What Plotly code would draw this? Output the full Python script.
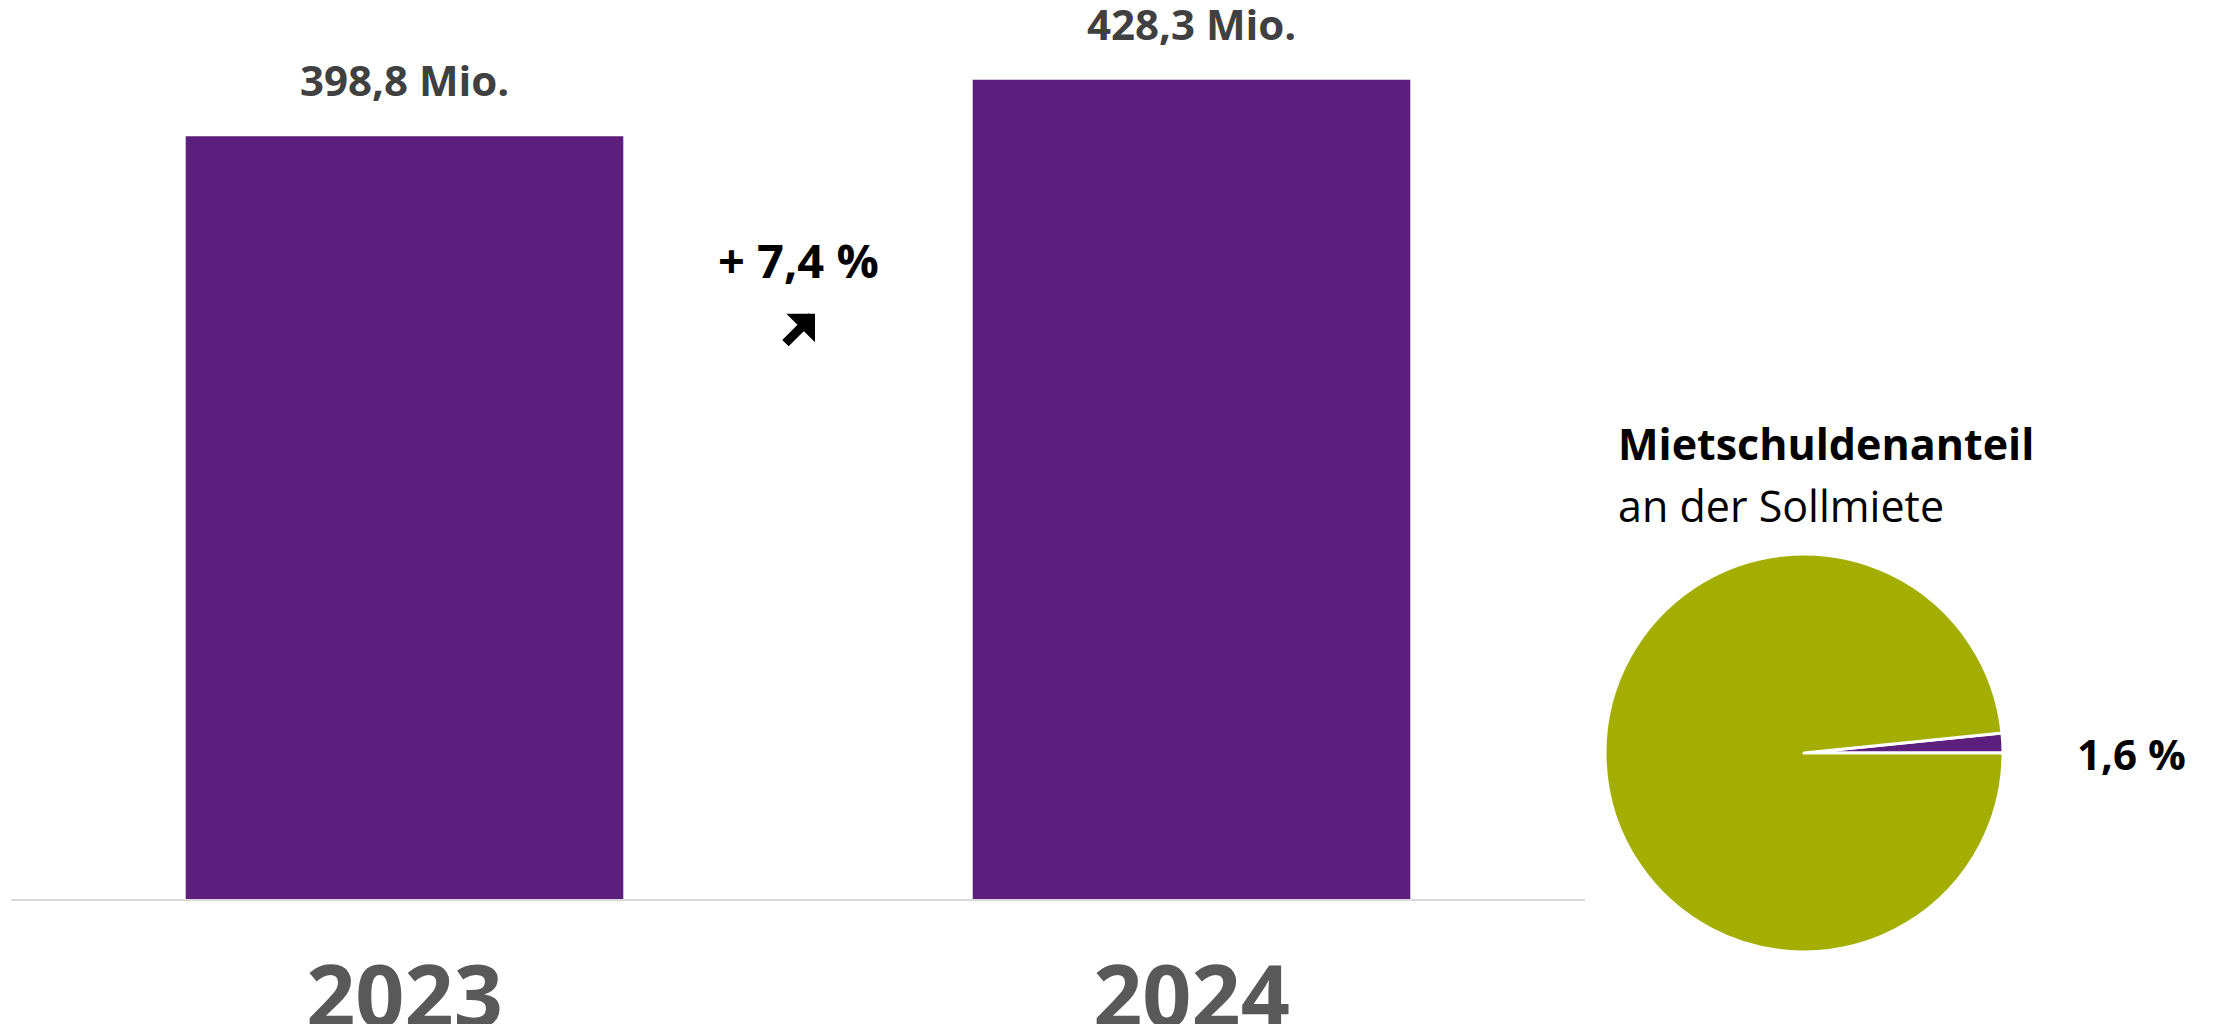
import plotly.graph_objects as go

years = ["2023", "2024"]
volumes = [398.8, 428.3]          # Mio.
volume_labels = ["398,8 Mio.", "428,3 Mio."]
change_label = "+ 7,4 %"
pie_labels = ["Mietschulden", "Übrige Sollmiete"]
pie_values = [1.6, 98.4]
pie_value_label = "1,6 %"
pie_title_bold = "Mietschuldenanteil"
pie_title_sub = "an der Sollmiete"

PURPLE = "#5C1F7E"
GREEN = "#A3AE00"
FONT = "Open Sans"

fig = go.Figure()

fig.add_trace(go.Bar(
    x=years, y=volumes, marker=dict(color=PURPLE, line=dict(width=0)),
    width=0.556, xaxis="x", yaxis="y", showlegend=False, hoverinfo="skip",
))

# Value labels above bars (category index positions)
for i, (v, lab) in enumerate(zip(volumes, volume_labels)):
    fig.add_annotation(x=i, y=v, xref="x", yref="y", text=lab, showarrow=False,
                       yanchor="bottom", yshift=26,
                       font=dict(family=FONT, size=42, color="#404040", weight="bold"))

# Change annotation between bars
fig.add_annotation(x=0.5, y=334, xref="x", yref="y", text=change_label, showarrow=False,
                   font=dict(family=FONT, size=47, color="#000000", weight="bold"))
# Up-right arrow
fig.add_annotation(x=0.5, y=306, xref="x", yref="y", xshift=17, text="",
                   showarrow=True, arrowhead=1, arrowsize=0.75, arrowwidth=9,
                   arrowcolor="#000000", ax=-31, ay=31, axref="pixel", ayref="pixel")

# Pie
fig.add_trace(go.Pie(
    labels=pie_labels, values=pie_values, sort=False, direction="counterclockwise",
    rotation=90 - 360 * pie_values[0] / sum(pie_values),
    marker=dict(colors=[PURPLE, GREEN], line=dict(color="white", width=3)),
    textinfo="none", hoverinfo="skip", showlegend=False,
    domain=dict(x=[1605/2213, 2003/2213], y=[(1024-953)/1024, (1024-553)/1024]),
))

fig.add_annotation(x=1616/2213, y=(1024-443)/1024, xref="paper", yref="paper",
                   text=pie_title_bold, showarrow=False, xanchor="left", yanchor="middle",
                   font=dict(family=FONT, size=43, color="#000000", weight="bold"))
fig.add_annotation(x=1616/2213, y=(1024-505)/1024, xref="paper", yref="paper",
                   text=pie_title_sub, showarrow=False, xanchor="left", yanchor="middle",
                   font=dict(family=FONT, size=43, color="#000000"))
fig.add_annotation(x=2131/2213, y=(1024-753)/1024, xref="paper", yref="paper",
                   text=pie_value_label, showarrow=False, xanchor="center", yanchor="middle",
                   font=dict(family=FONT, size=42, color="#000000", weight="bold"))

fig.update_layout(
    width=2213, height=1024, margin=dict(l=0, r=0, t=0, b=0, autoexpand=False),
    paper_bgcolor="white", plot_bgcolor="white",
    font=dict(family=FONT),
    xaxis=dict(domain=[11/2213, 1585/2213], range=[-0.5, 1.5], type="category",
               showline=True, linecolor="#D9D9D9", linewidth=2, showgrid=False,
               ticks="", ticklabelstandoff=23, automargin=False,
               tickfont=dict(family=FONT, size=86, color="#595959", weight="bold")),
    yaxis=dict(domain=[(1024-899)/1024, 1.0], range=[0, 470], visible=False,
               showgrid=False, zeroline=False, automargin=False),
)

fig.write_html("out.html")
